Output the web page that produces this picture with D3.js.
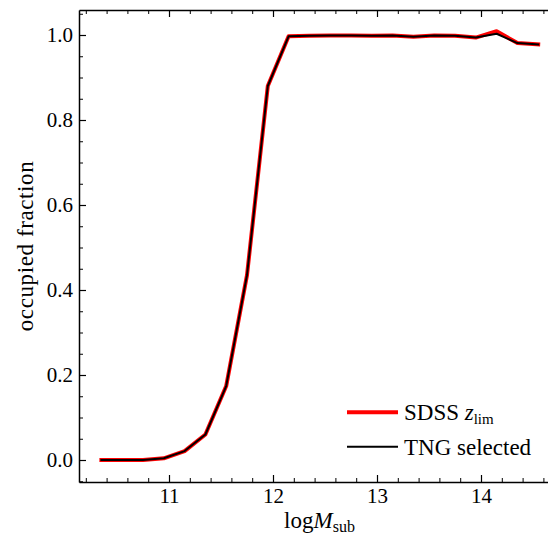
<!DOCTYPE html>
<html>
<head>
<meta charset="utf-8">
<script src="https://cdn.jsdelivr.net/npm/d3@7"></script>
<style>
  body { margin: 0; background: #fff; }
  svg { display: block; font-family: "Liberation Serif", "DejaVu Serif", serif; }
  .axis path, .axis line { stroke: #000; }
</style>
</head>
<body>
<svg id="graph" width="548" height="539"></svg>
<script>
// log M_sub bin centres
let logMsub = [10.35, 10.55, 10.75, 10.95, 11.15, 11.35, 11.55, 11.75, 11.95, 12.15, 12.35,
               12.55, 12.75, 12.95, 13.15, 13.35, 13.55, 13.75, 13.95, 14.15, 14.35, 14.55]
let sdssFrac = [0.0, 0.0, 0.0, 0.004, 0.021, 0.06, 0.174, 0.435, 0.88, 0.997, 0.998,
                0.999, 0.999, 0.998, 0.999, 0.996, 0.999, 0.998, 0.994, 1.009, 0.981, 0.978]
let tngFrac  = [0.0, 0.0, 0.0, 0.004, 0.021, 0.06, 0.174, 0.435, 0.88, 0.997, 0.998,
                0.999, 0.999, 0.998, 0.999, 0.996, 0.999, 0.998, 0.994, 1.003, 0.981, 0.978]
let xTicks = [11, 12, 13, 14]
let yTicks = [0, 0.2, 0.4, 0.6, 0.8, 1.0]

let series = [
  {id: "sdss", values: sdssFrac, color: "#ff0000", width: 4},
  {id: "tng", values: tngFrac, color: "#000000", width: 2}
]

//======================= SET UP SVG =========================
let svg = d3.select("#graph"),
    plotL = 79, plotR = 560, plotT = 10, plotB = 482

let x = d3.scaleLinear().domain([11 - 90 / 104, 14 + 79 / 104]).range([plotL, plotR]),
    y = d3.scaleLinear().domain([-22 / 425, 1 + 25 / 425]).range([plotB, plotT])

let xMinor = d3.range(10.2, 14.8, 0.2).filter(function(v) { return Math.abs(v - Math.round(v)) > 0.01 })
let yMinor = d3.range(-0.05, 1.06, 0.05).filter(function(v) { return Math.abs(v * 5 - Math.round(v * 5)) > 0.01 })

//======================= LINES =========================
let line = d3.line()
  .x(function(d) { return x(d.m) })
  .y(function(d) { return y(d.f) })

svg.append("clipPath").attr("id", "clip")
  .append("rect").attr("x", plotL).attr("y", plotT).attr("width", plotR - plotL).attr("height", plotB - plotT)

svg.append("g").attr("clip-path", "url(#clip)")
  .selectAll("path")
  .data(series)
  .enter().append("path")
    .attr("d", function(s) { return line(s.values.map(function(f, i) { return {m: logMsub[i], f: f} })) })
    .attr("fill", "none")
    .attr("stroke", function(s) { return s.color })
    .attr("stroke-width", function(s) { return s.width })
    .attr("stroke-linejoin", "round")
    .attr("stroke-linecap", "square")

//======================= AXES (ticks inward, all sides) =========================
function addAxis(axisFn, scale, ticks, minor, translate, fmt, showLabels) {
  let gMaj = svg.append("g").attr("class", "axis").attr("transform", translate)
    .call(axisFn(scale).tickValues(ticks).tickSizeInner(-7).tickSizeOuter(0).tickPadding(6).tickFormat(showLabels ? fmt : ""))
  gMaj.select(".domain").attr("stroke-width", 1.5)
  gMaj.selectAll(".tick line").attr("stroke-width", 1.2)
  gMaj.selectAll(".tick text").attr("font-size", 21).attr("fill", "#000").attr("font-family", "Liberation Serif, serif")
  let gMin = svg.append("g").attr("class", "axis").attr("transform", translate)
    .call(axisFn(scale).tickValues(minor).tickSizeInner(-4).tickSizeOuter(0).tickFormat(""))
  gMin.select(".domain").remove()
  gMin.selectAll(".tick line").attr("stroke-width", 1)
}

let fmtY = d3.format(".1f"), fmtX = d3.format("d")
addAxis(d3.axisBottom, x, xTicks, xMinor, "translate(0," + plotB + ")", fmtX, true)
addAxis(d3.axisTop, x, xTicks, xMinor, "translate(0," + plotT + ")", fmtX, false)
addAxis(d3.axisLeft, y, yTicks, yMinor, "translate(" + plotL + ",0)", fmtY, true)
addAxis(d3.axisRight, y, yTicks, yMinor, "translate(" + plotR + ",0)", fmtY, false)

//======================= AXIS LABELS =========================
let xl = svg.append("text")
  .attr("x", (plotL + plotR) / 2).attr("y", 528)
  .attr("text-anchor", "middle").attr("font-size", 23)
xl.append("tspan").text("log")
xl.append("tspan").attr("font-style", "italic").text("M")
xl.append("tspan").attr("font-size", 16).attr("dy", 4).text("sub")

svg.append("text")
  .attr("transform", "translate(33," + (plotT + plotB) / 2 + ") rotate(-90)")
  .attr("text-anchor", "middle").attr("font-size", 23)
  .attr("letter-spacing", 0.6)
  .text("occupied fraction")

//======================= LEGEND =========================
let legend = svg.append("g")
  .selectAll("g")
  .data(series)
  .enter().append("g")
    .attr("transform", function(s, i) { return "translate(347," + (412.3 + i * 34.4) + ")" })

legend.append("line")
  .attr("x1", 0).attr("x2", 51)
  .attr("stroke", function(s) { return s.color })
  .attr("stroke-width", function(s) { return s.id == "sdss" ? 4 : 2 })

let lt = legend.append("text").attr("x", 57).attr("y", 8).attr("font-size", 23)
lt.filter(function(s) { return s.id == "sdss" }).each(function() {
  let t = d3.select(this)
  t.append("tspan").text("SDSS ")
  t.append("tspan").attr("font-style", "italic").text("z")
  t.append("tspan").attr("font-size", 15).attr("dy", 4).text("lim")
})
lt.filter(function(s) { return s.id == "tng" }).text("TNG selected")
</script>
</body>
</html>
